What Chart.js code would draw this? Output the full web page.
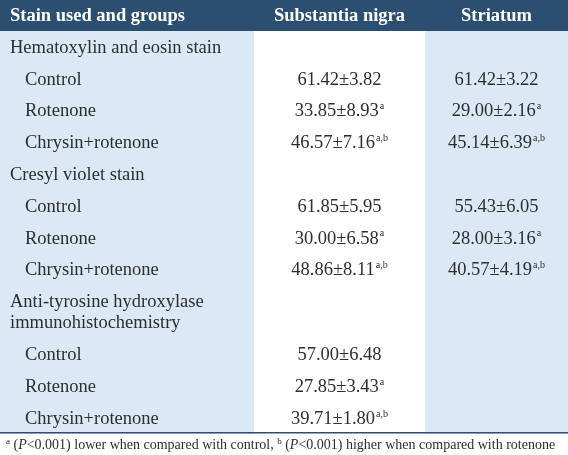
<!DOCTYPE html>
<html>
<head>
<meta charset="utf-8">
<script src="https://cdn.jsdelivr.net/npm/chart.js@4/dist/chart.umd.min.js"></script>
<style>
  html, body { margin: 0; padding: 0; background: #fff; }
  #wrap { width: 568px; height: 455px; }
</style>
</head>
<body>
<div id="wrap"><canvas id="tbl"></canvas></div>
<script>
// table content
const columns = ['Stain used and groups', 'Substantia nigra', 'Striatum'];
const stains = ['Hematoxylin and eosin stain', 'Cresyl violet stain', 'Anti-tyrosine hydroxylase\nimmunohistochemistry'];
const groups = ['Control', 'Rotenone', 'Chrysin+rotenone'];
const nigraMean = [61.42, 33.85, 46.57, 61.85, 30.00, 48.86, 57.00, 27.85, 39.71];
const nigraSD = [3.82, 8.93, 7.16, 5.95, 6.58, 8.11, 6.48, 3.43, 1.80];
const striatumMean = [61.42, 29.00, 45.14, 55.43, 28.00, 40.57, null, null, null];
const striatumSD = [3.22, 2.16, 6.39, 6.05, 3.16, 4.19, null, null, null];
const marks = ['', 'a', 'a,b'];
const footnote = [
  {sup: 'a'}, {t: ' ('}, {i: 'P'}, {t: '<0.001) lower when compared with control, '},
  {sup: 'b'}, {t: ' ('}, {i: 'P'}, {t: '<0.001) higher when compared with rotenone'}
];

// layout
const W = 568, H = 455;
const colEdges = [0, 254, 425, 568];
const headH = 31, rowH = 31.8, lineH = 21;
const NAVY = '#2c4e71', LIGHT = '#dbe8f5', INK = '#2e2e2e';
const FONT = '"Liberation Serif", "Times New Roman", serif';
const BODY = 18.5;

const rows = [{type: 'head', h: headH}];
stains.forEach((s, si) => {
  const lines = s.split('\n');
  rows.push({type: 'stain', lines, h: lines.length > 1 ? rowH + lineH + 0.2 : rowH});
  groups.forEach((g, gi) => rows.push({type: 'group', text: g, idx: si * 3 + gi, gi, h: rowH}));
});
let acc = 0;
rows.forEach(r => { r.top = acc; acc += r.h; r.bottom = acc; r.mid = (r.top + r.bottom) / 2; });
const bodyEnd = acc;
rows.push({type: 'foot', top: bodyEnd, bottom: H, mid: (bodyEnd + H) / 2});

const colMid = c => (colEdges[c] + colEdges[c + 1]) / 2;
const fmt = (m, s) => m.toFixed(2) + '±' + s.toFixed(2);

const labelPts = [], nigraPts = [], striPts = [];
rows.forEach(r => {
  if (r.type === 'stain') labelPts.push({x: 10, y: r.mid, lines: r.lines, kind: 'stain'});
  if (r.type === 'group') {
    labelPts.push({x: 25, y: r.mid, lines: [r.text], kind: 'group'});
    nigraPts.push({x: colMid(1), y: r.mid, text: fmt(nigraMean[r.idx], nigraSD[r.idx]), sup: marks[r.gi]});
    if (striatumMean[r.idx] !== null)
      striPts.push({x: colMid(2), y: r.mid, text: fmt(striatumMean[r.idx], striatumSD[r.idx]), sup: marks[r.gi]});
  }
});

const tablePlugin = {
  id: 'tableDraw',
  beforeDatasetsDraw(chart) {
    const {ctx, scales: {x, y}} = chart;
    ctx.save();
    // column shading in body
    ctx.fillStyle = LIGHT;
    [0, 2].forEach(c => {
      const x0 = x.getPixelForValue(colEdges[c]), x1 = x.getPixelForValue(colEdges[c + 1]);
      const y0 = y.getPixelForValue(headH), y1 = y.getPixelForValue(bodyEnd);
      ctx.fillRect(x0, y0, x1 - x0, y1 - y0);
    });
    // header band
    ctx.fillStyle = NAVY;
    ctx.fillRect(x.getPixelForValue(0), y.getPixelForValue(0), x.getPixelForValue(W) - x.getPixelForValue(0), y.getPixelForValue(headH) - y.getPixelForValue(0));
    // rule above footnote
    ctx.strokeStyle = NAVY;
    ctx.lineWidth = 1.5;
    ctx.beginPath();
    ctx.moveTo(x.getPixelForValue(0), y.getPixelForValue(bodyEnd - 1));
    ctx.lineTo(x.getPixelForValue(W), y.getPixelForValue(bodyEnd - 1));
    ctx.stroke();

    // header text
    ctx.fillStyle = '#ffffff';
    ctx.font = 'bold 18.5px ' + FONT;
    ctx.textBaseline = 'middle';
    const hy = y.getPixelForValue(headH / 2) + 1;
    ctx.textAlign = 'left';
    ctx.fillText(columns[0], x.getPixelForValue(10), hy);
    ctx.textAlign = 'center';
    ctx.fillText(columns[1], x.getPixelForValue(colMid(1)), hy);
    ctx.fillText(columns[2], x.getPixelForValue(colMid(2)), hy);

    // footnote
    const fy = y.getPixelForValue(rows[rows.length - 1].mid) + 1;
    let fx = x.getPixelForValue(6);
    ctx.textAlign = 'left';
    ctx.fillStyle = INK;
    footnote.forEach(p => {
      if (p.sup) { ctx.font = '9px ' + FONT; ctx.fillText(p.sup, fx, fy - 4); fx += ctx.measureText(p.sup).width; }
      else if (p.i) { ctx.font = 'italic 14px ' + FONT; ctx.fillText(p.i, fx, fy); fx += ctx.measureText(p.i).width; }
      else { ctx.font = '14px ' + FONT; ctx.fillText(p.t, fx, fy); fx += ctx.measureText(p.t).width; }
    });
    ctx.restore();
  },
  afterDatasetsDraw(chart) {
    const {ctx} = chart;
    ctx.save();
    ctx.fillStyle = INK;
    ctx.textBaseline = 'middle';
    chart.data.datasets.forEach((ds, di) => {
      const meta = chart.getDatasetMeta(di);
      meta.data.forEach((el, i) => {
        const p = ds.data[i];
        if (p.lines) {
          ctx.textAlign = 'left';
          ctx.font = BODY + 'px ' + FONT;
          const n = p.lines.length;
          p.lines.forEach((ln, k) => ctx.fillText(ln, el.x, el.y + (k - (n - 1) / 2) * lineH + 1));
        } else {
          ctx.font = BODY + 'px ' + FONT;
          const w1 = ctx.measureText(p.text).width;
          ctx.font = '10px ' + FONT;
          const w2 = p.sup ? ctx.measureText(p.sup).width + 1 : 0;
          const x0 = el.x - (w1 + w2) / 2;
          ctx.textAlign = 'left';
          ctx.font = BODY + 'px ' + FONT;
          ctx.fillText(p.text, x0, el.y + 1);
          if (p.sup) {
            ctx.font = '10px ' + FONT;
            ctx.fillText(p.sup, x0 + w1 + 1, el.y - 4);
          }
        }
      });
    });
    ctx.restore();
  }
};

new Chart(document.getElementById('tbl'), {
  type: 'scatter',
  data: {
    datasets: [
      {label: 'Stain used and groups', data: labelPts, pointRadius: 0},
      {label: 'Substantia nigra', data: nigraPts, pointRadius: 0},
      {label: 'Striatum', data: striPts, pointRadius: 0}
    ]
  },
  options: {
    responsive: true,
    maintainAspectRatio: false,
    animation: false,
    layout: {padding: 0},
    plugins: {legend: {display: false}, tooltip: {enabled: false}},
    scales: {
      x: {type: 'linear', min: 0, max: W, display: false},
      y: {type: 'linear', min: 0, max: H, reverse: true, display: false}
    }
  },
  plugins: [tablePlugin]
});
</script>
</body>
</html>
